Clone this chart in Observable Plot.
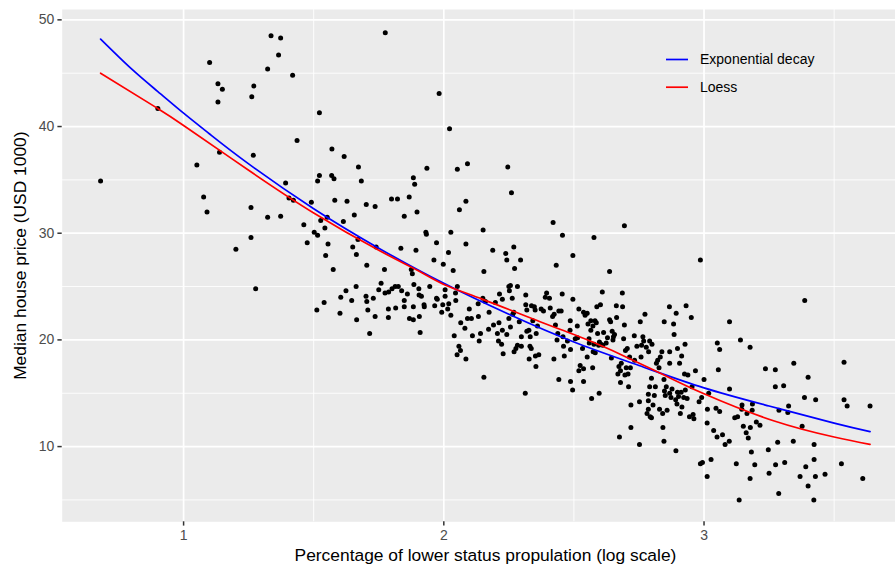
<!DOCTYPE html>
<html><head><meta charset="utf-8">
<script src="https://cdn.jsdelivr.net/npm/d3@7"></script>
<script src="https://cdn.jsdelivr.net/npm/@observablehq/plot@0.6"></script>
<style>html,body{margin:0;padding:0;background:#fff;} #chart svg{display:block;}</style>
</head><body><div id="chart"></div>
<script>
// Observations: [log(lower status %), median house price (USD 1000)], grouped by region of the chart
const ptsLeft = [
[0.681,34.9],[0.901,41.7],[1.100,46.0],[1.132,44.0],[1.149,43.5],[1.132,42.3],[1.138,37.6],[1.051,36.4],[1.077,33.4],[1.090,32.0],
[1.259,32.4],[1.323,31.5],[1.259,29.6],[1.201,28.5],[1.268,37.3],[1.262,42.8],[1.270,43.8],[1.323,45.4],[1.336,48.5],[1.277,24.8]
];
const ptsUpperMid = [
[1.373,48.3],[1.365,46.7],[1.419,44.8],[1.775,48.8],[1.522,41.3],[1.982,43.1],[2.022,39.8],[1.436,38.7],[1.570,37.9],[1.617,37.2],
[1.672,36.2],[1.683,34.9],[1.522,35.4],[1.515,34.9],[1.569,35.4],[1.578,35.1],[1.392,34.7],[1.405,33.3],[1.422,33.1],[1.491,32.9],
[1.581,33.1],[1.628,33.0],[1.702,32.7],[1.736,32.5],[1.799,33.2],[1.822,33.2],[1.867,33.4],[1.883,35.2],[1.888,34.6],[1.935,36.1],
[2.052,36.0],[2.091,36.5],[1.897,32.0],[1.848,31.6],[2.085,33.0],[2.060,32.2],[1.373,31.6],[1.462,30.8],[1.527,31.2],[1.552,31.5],
[1.614,31.1],[1.656,31.7],[1.502,30.1],[1.515,29.8],[1.543,30.5],[1.475,29.1],[1.555,29.0],[1.546,27.9],[1.650,28.7],[1.670,29.4],
[1.664,28.0],[1.704,27.0],[1.740,28.7],[1.835,28.6],[1.893,28.4],[1.931,30.1],[1.933,29.9],[1.972,29.1],[2.027,30.1],[2.085,29.0],
[1.962,27.5],[1.998,27.1],[2.018,28.2],[2.151,30.3],
[2.246,36.2],[2.260,33.8],[2.420,31.0],[2.456,29.8],[2.694,30.7],[2.577,29.6],[2.188,28.4],[2.238,28.1],[2.269,28.7],[2.242,27.5],
[2.295,27.5],[2.496,27.9],[2.432,27.0],[2.986,27.5]
];
const ptsCentre = [
[1.575,26.6],[1.772,26.6],[2.036,26.5],[1.875,26.6],[1.879,26.2],[2.154,26.4],[1.540,23.5],[1.512,22.8],[1.604,24.0],[1.601,22.5],
[1.624,24.6],[1.646,23.7],[1.663,25.0],[1.665,21.9],[1.701,24.1],[1.704,23.6],[1.708,22.8],[1.715,20.6],[1.729,23.9],[1.736,22.2],
[1.750,24.7],[1.759,25.3],[1.774,24.4],[1.788,24.5],[1.787,22.9],[1.787,22.1],[1.801,24.8],[1.813,25.0],[1.825,25.0],[1.815,23.0],
[1.838,24.6],[1.848,23.7],[1.848,23.1],[1.860,24.3],[1.868,22.0],[1.883,21.9],[1.885,25.2],[1.883,23.1],[1.904,24.8],[1.905,24.2],
[1.914,24.1],[1.906,22.2],[1.909,20.7],[1.924,23.3],[1.925,23.1],[1.946,25.0],[1.965,23.2],[1.972,23.9],[1.975,23.8],[1.992,22.6],
[1.996,23.3],[2.005,24.7],[2.005,24.1],[2.015,22.9],[2.019,23.4],[2.027,22.3],[2.040,20.4],[2.045,24.4],[2.046,23.7],[2.052,25.0],
[2.058,19.4],[2.064,19.0],[2.051,18.6],[2.085,18.2],[2.065,21.6],[2.081,21.1],[2.098,22.9],[2.091,22.0],[2.106,22.0],[2.110,20.4],
[2.132,23.4],[2.133,22.2],[2.141,20.6],[2.136,19.9],[2.154,16.5],[2.150,23.9],[2.160,23.6]
];
const ptsMidRight = [
[2.272,26.7],[2.637,26.4],[2.250,25.0],[2.256,25.1],[2.252,24.6],[2.283,25.0],[2.214,24.3],[2.225,23.8],[2.198,23.5],[2.263,23.9],
[2.315,24.2],[2.174,22.6],[2.172,21.0],[2.191,21.4],[2.206,20.6],[2.212,21.6],[2.210,19.9],[2.225,20.9],[2.222,19.6],[2.228,18.7],
[2.242,20.5],[2.250,22.0],[2.256,21.2],[2.265,22.4],[2.269,22.6],[2.290,21.7],[2.270,18.9],[2.277,19.2],[2.283,19.5],[2.298,19.4],
[2.298,20.3],[2.315,23.3],[2.319,22.8],[2.319,20.8],[2.327,20.9],[2.331,19.4],[2.336,19.2],[2.328,18.2],[2.332,20.3],[2.337,23.2],
[2.342,21.8],[2.348,23.1],[2.351,22.8],[2.355,20.6],[2.352,18.5],[2.365,18.6],[2.354,17.5],[2.360,21.3],[2.374,22.9],[2.383,22.7],
[2.390,24.0],[2.395,24.4],[2.406,23.9],[2.409,23.0],[2.418,22.2],[2.424,22.4],[2.429,21.4],[2.423,18.2],[2.435,20.0],[2.438,20.6],
[2.442,22.7],[2.451,22.7],[2.455,24.3],[2.458,20.3],[2.442,16.3],[2.463,18.5],[2.460,19.4],[2.475,19.9],[2.485,20.9],[2.486,21.8],
[2.487,19.1],[2.487,16.1],[2.495,15.3],[2.496,23.8],[2.505,20.1],[2.513,21.3],[2.519,22.9],[2.514,20.2],[2.524,17.6],[2.519,17.1],
[2.537,17.3],[2.537,16.1],[2.533,19.2],[2.537,22.6],[2.543,22.3],[2.551,22.5],[2.554,21.5],[2.551,18.4],[2.559,19.7],[2.558,20.1],
[2.565,20.9],[2.565,21.8],[2.573,21.3],[2.574,18.9],[2.572,17.4],[2.577,19.6],[2.581,21.8],[2.586,21.6],[2.582,18.8],[2.588,23.1],
[2.595,19.5],[2.591,20.6],[2.598,19.8],[2.602,23.3],[2.568,14.5],[2.597,15.0],[2.609,24.5],[2.604,19.6],[2.611,19.5],[2.614,20.7],
[2.624,19.7],[2.629,20.2],[2.637,21.9],[2.641,21.7],[2.644,18.3],[2.647,20.8],[2.650,20.0],[2.652,20.3],[2.656,20.5],[2.663,23.2],
[2.664,22.1],[2.669,16.8],[2.679,16.0],[2.673,17.5],[2.679,17.1],[2.682,17.8],[2.686,24.4],[2.687,23.1],[2.691,20.1],[2.694,21.4],
[2.698,19.0],[2.701,17.4],[2.696,16.7],[2.705,19.2],[2.708,16.8],[2.710,15.6],[2.714,18.4],[2.717,17.4],[2.719,13.9],[2.719,11.8],
[2.675,10.9],[2.732,20.4],[2.733,18.1],[2.742,19.4],[2.752,14.2],[2.752,10.2],[2.755,21.7],[2.758,18.4],[2.760,19.5],[2.765,20.3],
[2.768,19.9],[2.773,22.4],[2.778,19.3],[2.781,13.1],[2.786,13.5],[2.787,18.9],[2.791,19.9],[2.786,14.3],[2.793,12.8],[2.798,12.7],
[2.800,19.6],[2.804,13.9],[2.798,16.4],[2.791,15.6],[2.786,14.9],[2.813,15.6],[2.809,14.8],[2.817,17.8],[2.822,18.1],[2.827,17.4],
[2.832,18.4],[2.829,13.5],[2.838,18.9],[2.841,13.1],[2.842,11.8],[2.846,10.5],[2.846,16.3],[2.847,21.7],[2.848,15.2],[2.851,14.8],
[2.855,15.6],[2.858,13.4],[2.867,23.1],[2.868,18.9],[2.868,17.8],[2.868,15.0],[2.873,14.6],[2.877,15.4],[2.883,21.5],[2.885,20.5],
[2.893,22.5],[2.892,9.6],[2.891,14.4],[2.896,14.0],[2.898,15.1],[2.902,14.7],[2.898,19.2],[2.906,17.8],[2.909,13.1],[2.914,18.5],
[2.915,13.7],[2.912,15.1],[2.922,14.6],[2.927,19.6],[2.925,16.8],[2.928,15.3],[2.931,23.2],[2.935,14.5],[2.938,16.7],[2.944,12.8],
[2.951,22.1],[2.954,15.6],[2.958,13.0],[2.961,12.6],[2.967,17.1],[2.313,15.0]
];
const ptsRight = [
[3.098,21.7],[3.387,23.7],[3.140,20.0],[3.051,19.7],[3.060,19.1],[3.177,19.3],[3.538,17.9],[3.055,17.2],[3.236,17.3],[3.274,17.2],
[3.345,17.8],[3.000,16.3],[3.400,16.5],[3.274,15.6],[3.306,15.7],[3.098,15.4],[3.018,15.0],[2.991,14.6],[2.981,14.2],[3.386,14.6],
[3.429,14.4],[3.538,14.4],[3.550,13.8],[3.638,13.8],[3.046,13.6],[3.013,13.5],[3.060,13.3],[3.146,13.9],[3.186,14.0],[3.145,13.5],
[3.165,13.1],[3.185,13.4],[3.129,12.8],[3.118,12.7],[3.201,12.3],[3.215,12.0],[3.288,13.4],[3.325,13.8],[3.322,13.2],[3.377,11.9],
[3.012,12.2],[3.037,11.5],[3.050,10.9],[3.071,11.1],[3.081,10.2],[3.097,10.5],[3.151,11.9],[3.162,11.3],[3.178,11.8],[3.170,10.8],
[3.283,10.4],[3.343,10.5],[3.423,10.2],[3.182,9.5],[3.247,9.7],[2.986,8.4],[2.994,8.5],[3.027,8.8],[3.124,8.4],[3.195,8.3],
[3.310,8.5],[3.275,8.3],[3.423,8.8],[3.391,8.1],[3.528,8.4],[3.012,7.2],[3.177,7.0],[3.250,7.5],[3.369,7.2],[3.428,7.2],
[3.465,7.4],[3.610,7.0],[3.400,6.3],[3.287,5.6],[3.135,5.0],[3.422,5.0]
];

// Fitted curves
const expDecayX = [0.681, 0.8, 0.9, 1.0, 1.1, 1.25, 1.5, 1.75, 2.0, 2.25, 2.5, 2.75, 3.0, 3.25, 3.5, 3.638];
const expDecayY = [48.2, 45.4, 43.3, 41.25, 39.3, 36.5, 32.3, 28.6, 25.3, 22.4, 19.8, 17.6, 15.5, 13.8, 12.2, 11.4];
const loessX = [0.681, 0.90, 1.0, 1.25, 1.5, 1.75, 1.9, 2.0, 2.15, 2.37, 2.5, 2.63, 2.70, 2.83, 3.0, 3.27, 3.5, 3.638];
const loessY = [45.0, 41.7, 40.1, 35.9, 31.9, 28.4, 26.5, 25.2, 23.8, 21.7, 20.5, 19.2, 18.4, 16.9, 14.95, 12.4, 10.9, 10.2];

const xTicks = [1, 2, 3];
const xMinor = [1.5, 2.5, 3.5];
const yTicks = [10, 20, 30, 40, 50];
const yMinor = [5, 15, 25, 35, 45];
const seriesNames = ["Exponential decay", "Loess"];
const seriesColors = ["blue", "red"];
const xTitle = "Percentage of lower status propulation (log scale)";
const yTitle = "Median house price (USD 1000)";

const points = [...ptsLeft, ...ptsUpperMid, ...ptsCentre, ...ptsMidRight, ...ptsRight].map(([x, y]) => ({x, y}));
const expLine = expDecayX.map((x, i) => ({x, y: expDecayY[i]}));
const loessLine = loessX.map((x, i) => ({x, y: loessY[i]}));

const FONT = "'Liberation Sans', Arial, Helvetica, sans-serif";
const W = 895, H = 564, mL = 61.7, mT = 9, mB = 42.7;

const chart = Plot.plot({
  width: W, height: H,
  marginLeft: mL, marginRight: 0, marginTop: mT, marginBottom: mB,
  style: {fontFamily: FONT, background: "white"},
  x: {domain: [0.5335, 3.785], range: [mL, 907.8]},
  y: {domain: [2.95, 50.97]},
  marks: [
    Plot.frame({fill: "#EBEBEB", stroke: null}),
    Plot.ruleX(xMinor, {stroke: "white", strokeWidth: 0.9}),
    Plot.ruleY(yMinor, {stroke: "white", strokeWidth: 0.9}),
    Plot.ruleX(xTicks, {stroke: "white", strokeWidth: 1.7}),
    Plot.ruleY(yTicks, {stroke: "white", strokeWidth: 1.7}),
    Plot.dot(points, {x: "x", y: "y", r: 2.5, fill: "black", stroke: null}),
    Plot.line(expLine, {x: "x", y: "y", stroke: seriesColors[0], strokeWidth: 1.7, curve: "natural"}),
    Plot.line(loessLine, {x: "x", y: "y", stroke: seriesColors[1], strokeWidth: 1.7, curve: "natural"}),
    Plot.axisX(xTicks, {tickSize: 4.3, tickPadding: 4, fontSize: 14, tickFormat: d => String(d), stroke: "#333333", strokeWidth: 1.5, fill: "#4D4D4D", label: null}),
    Plot.axisY(yTicks, {tickSize: 4.3, tickPadding: 3.5, fontSize: 14, tickFormat: d => String(d), stroke: "#333333", strokeWidth: 1.5, fill: "#4D4D4D", label: null}),
    Plot.text([xTitle], {frameAnchor: "bottom", textAnchor: "middle", dx: 6.6, dy: 27, lineAnchor: "top", fontSize: 17.4, fill: "black"}),
    Plot.text([yTitle], {frameAnchor: "left", textAnchor: "middle", rotate: -90, dx: -48.5, dy: -10, lineAnchor: "top", fontSize: 17.4, fill: "black"})
  ]
});

// Legend inside the panel (transparent background, as in the reference)
const svg = d3.select(chart);
const leg = svg.append("g").attr("font-family", FONT).attr("font-size", 14).attr("text-anchor", "start");
seriesNames.forEach((name, i) => {
  const cy = 59.5 + i * 27.7;
  leg.append("line").attr("x1", 666).attr("x2", 688).attr("y1", cy).attr("y2", cy)
    .attr("stroke", seriesColors[i]).attr("stroke-width", 1.7);
  leg.append("text").attr("x", 700).attr("y", cy).attr("dy", "0.35em").attr("fill", "black")
    .attr("text-anchor", "start").text(name);
});

document.getElementById("chart").appendChild(chart);
</script>
</body></html>
